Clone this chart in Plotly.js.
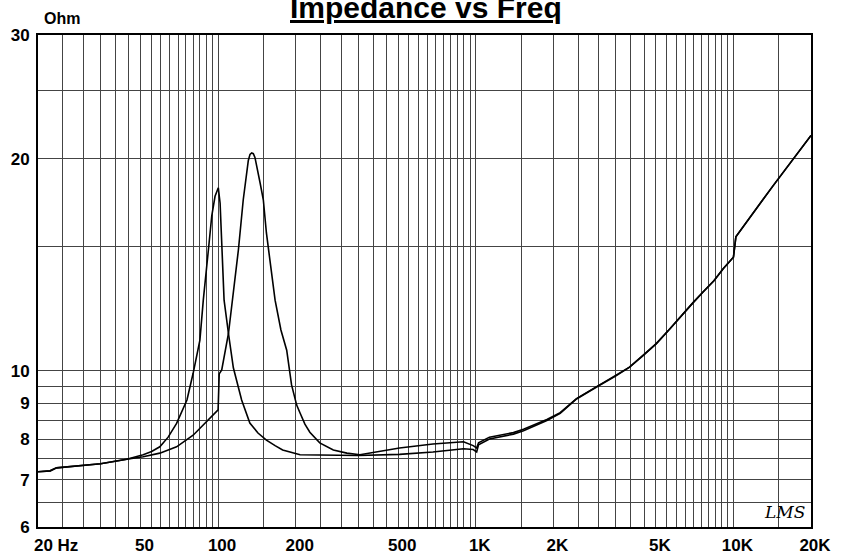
<!DOCTYPE html>
<html>
<head>
<meta charset="utf-8">
<script src="https://cdn.plot.ly/plotly-3.0.1.min.js"></script>
<style>html,body{margin:0;padding:0;background:#fff;}#chart{width:843px;height:556px;}</style>
</head>
<body>
<div id="chart"></div>
<script>
// Curve 1: driver with resonance near 100 Hz
var freqA = [20, 22.3, 23.6, 30, 35, 44.2, 51.2, 55.2, 59.4, 64, 69, 75.7, 80, 85, 87.6, 91.7, 94.5, 97.3, 99, 100.2, 101.8, 103.3, 105.5, 109.7, 114.6, 123.4, 132.8, 142.8, 154, 166.4, 178, 208, 280, 350, 506, 682, 896, 977, 1008, 1025, 1130, 1400, 1532, 1888, 2126, 2460, 3012, 3476, 3952, 4460, 5020, 5660, 6372, 6960, 7620, 8400, 9140, 10000, 10220, 14220, 20000];
var zA    = [7.19, 7.21, 7.28, 7.33, 7.38, 7.49, 7.6, 7.68, 7.8, 8.05, 8.42, 9.09, 9.92, 11.06, 12.6, 14.86, 16.6, 17.7, 18.05, 18.2, 17.3, 14.86, 12.6, 11.3, 10.1, 9.09, 8.43, 8.16, 7.97, 7.83, 7.72, 7.6, 7.58, 7.58, 7.61, 7.67, 7.75, 7.73, 7.67, 7.85, 8.0, 8.13, 8.22, 8.5, 8.7, 9.12, 9.53, 9.82, 10.12, 10.51, 10.93, 11.47, 12.07, 12.49, 12.94, 13.43, 13.98, 14.5, 15.5, 18.3, 21.6];
// Curve 2: driver with resonance near 135 Hz
var freqB = [20, 22.3, 23.6, 30, 35, 44.2, 51.2, 59.4, 69, 80, 90.4, 100, 101, 103.3, 109.7, 113.7, 119.9, 125.2, 131, 133, 135, 137, 139, 145.5, 149.8, 154, 159, 166.4, 175.3, 184.6, 192.8, 201.8, 208, 217.2, 227, 248, 280, 316, 355, 506, 682, 896, 977, 1008, 1025, 1130, 1400, 1532, 1888, 2126, 2460, 3012, 3476, 3952, 4460, 5020, 5660, 6372, 6960, 7620, 8400, 9140, 10000, 10220, 14220, 20000];
var zB    = [7.19, 7.21, 7.28, 7.33, 7.38, 7.49, 7.55, 7.64, 7.8, 8.1, 8.47, 8.8, 9.9, 10.03, 11.3, 12.6, 14.86, 17.5, 19.9, 20.3, 20.4, 20.35, 20.1, 18.5, 17.5, 15.7, 14.4, 12.6, 11.43, 10.7, 9.55, 8.94, 8.71, 8.4, 8.18, 7.9, 7.72, 7.64, 7.6, 7.77, 7.87, 7.93, 7.83, 7.77, 7.9, 8.05, 8.17, 8.26, 8.53, 8.72, 9.13, 9.54, 9.83, 10.12, 10.51, 10.93, 11.47, 12.07, 12.49, 12.94, 13.43, 13.98, 14.5, 15.5, 18.3, 21.6];

// Axis labels
var xLabelVals = [20, 50, 100, 200, 500, 1000, 2000, 5000, 10000, 20000];
var xLabelText = ['\u00A0\u00A0\u00A0\u00A0\u00A0\u00A020 Hz', '50', '100', '200', '500', '1K', '2K', '5K', '10K', '20K'];
var yGridVals = [6, 6.5, 7, 7.5, 8, 8.5, 9, 9.5, 10, 15, 20, 25, 30];
var yLabelVals = [6, 7, 8, 9, 10, 20, 30];
var yLabelText = ['6', '7', '8', '9', '10', '20', '30'];

// grid positions: 1.5..10 step 0.5 per decade
var xGridVals = [];
[10, 100, 1000, 10000].forEach(function (d) {
  for (var k = 3; k <= 20; k++) {
    var v = k * 0.5 * d;
    if (v >= 20 && v <= 20000 && xGridVals.indexOf(v) < 0) xGridVals.push(v);
  }
});
var xGridText = xGridVals.map(function (v) {
  var i = xLabelVals.indexOf(v);
  return i >= 0 ? xLabelText[i] : '';
});
var yGridText = yGridVals.map(function (v) {
  var i = yLabelVals.indexOf(v);
  return i >= 0 ? yLabelText[i] : '';
});

var FONT = 'Liberation Sans, Arial, sans-serif';

var traces = [
  {x: freqA, y: zA, type: 'scatter', mode: 'lines', line: {color: '#000', width: 1.6}, hoverinfo: 'none'},
  {x: freqB, y: zB, type: 'scatter', mode: 'lines', line: {color: '#000', width: 1.6}, hoverinfo: 'none'}
];

var layout = {
  width: 843, height: 556,
  margin: {l: 38, r: 32, t: 35, b: 29},
  paper_bgcolor: '#fff', plot_bgcolor: '#fff',
  showlegend: false,
  font: {family: FONT, color: '#000'},
  xaxis: {
    type: 'log', range: [Math.log10(20), Math.log10(20000)],
    tickmode: 'array', tickvals: xGridVals, ticktext: xGridText,
    tickfont: {family: FONT, size: 17, weight: 'bold', color: '#000'},
    ticks: '', ticklabelstandoff: 2, ticklabelshift: 4,
    showgrid: true, gridcolor: '#444', gridwidth: 1,
    showline: true, mirror: true, linecolor: '#000', linewidth: 2,
    zeroline: false, fixedrange: true
  },
  yaxis: {
    type: 'log', range: [Math.log10(6), Math.log10(30)],
    tickmode: 'array', tickvals: yGridVals, ticktext: yGridText,
    tickfont: {family: FONT, size: 17, weight: 'bold', color: '#000'},
    ticks: '', ticklabelstandoff: 3,
    showgrid: true, gridcolor: '#444', gridwidth: 1,
    showline: true, mirror: true, linecolor: '#000', linewidth: 2,
    zeroline: false, fixedrange: true
  },
  annotations: [
    {text: '<b><u>Impedance vs Freq</u></b>', xref: 'paper', yref: 'paper', x: 0.502, y: 1.056,
     xanchor: 'center', yanchor: 'middle', showarrow: false,
     font: {family: FONT, size: 30, color: '#000'}},
    {text: 'Ohm', xref: 'paper', yref: 'paper', x: 0.005, y: 1.034,
     xanchor: 'left', yanchor: 'middle', showarrow: false,
     font: {family: FONT, size: 16, weight: 'bold', color: '#000'}},
    {text: '<i>LMS</i>', xref: 'paper', yref: 'paper', x: 0.966, y: 0.03,
     xanchor: 'center', yanchor: 'middle', showarrow: false,
     font: {family: 'DejaVu Serif, serif', size: 17, color: '#000'}}
  ]
};

Plotly.newPlot('chart', traces, layout, {staticPlot: true, displayModeBar: false});
</script>
</body>
</html>
